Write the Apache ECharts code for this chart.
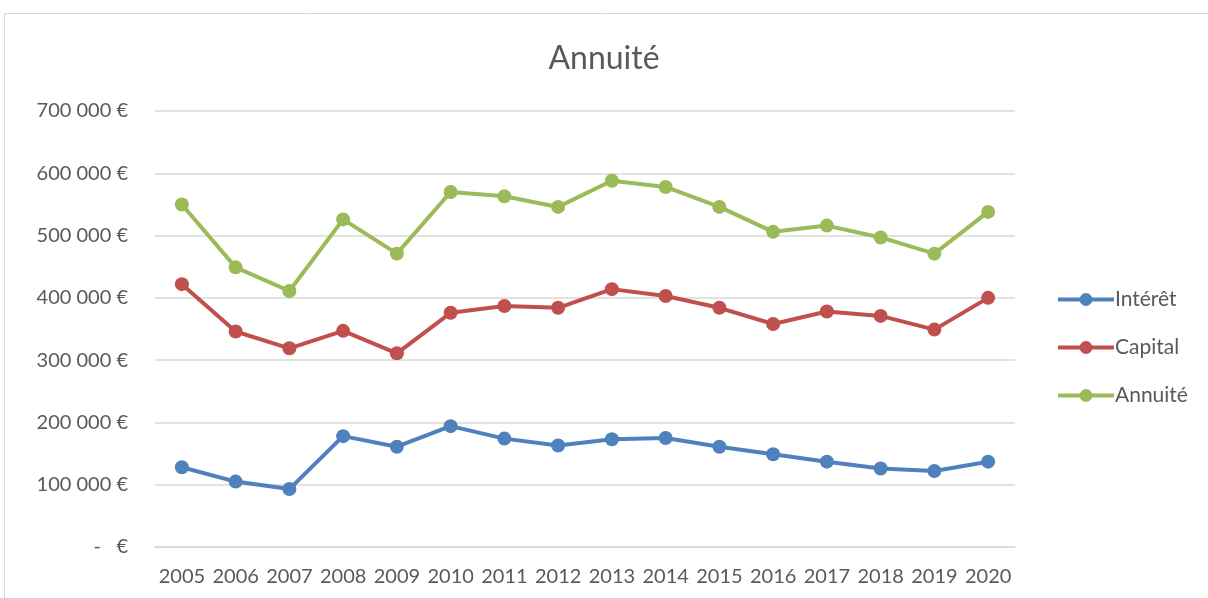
<!DOCTYPE html>
<html>
<head>
<meta charset="utf-8">
<script src="https://cdn.jsdelivr.net/npm/echarts@6/dist/echarts.min.js"></script>
<style>
  html, body { margin: 0; padding: 0; background: #fff; }
  #chart { width: 1208px; height: 598px; }
</style>
</head>
<body>
<div id="chart"></div>
<script>
var years = ['2005', '2006', '2007', '2008', '2009', '2010', '2011', '2012',
             '2013', '2014', '2015', '2016', '2017', '2018', '2019', '2020'];
var interet = [128000, 105000, 93000, 178000, 161000, 194000, 174000, 163000,
               173000, 175000, 161000, 149000, 137000, 126000, 122000, 137000];
var capital = [422000, 346000, 319000, 347000, 311000, 376000, 387000, 384000,
               414000, 403000, 384000, 358000, 378000, 371000, 349000, 400000];
var annuite = [550000, 449000, 411000, 526000, 471000, 570000, 563000, 546000,
               588000, 578000, 546000, 506000, 516000, 497000, 471000, 538000];

var font = 'Lato, "Open Sans", sans-serif';
var textColor = '#595959';

function euro(v) {
    if (v === 0) return '-   €';
    return String(v).replace(/\B(?=(\d{3})+(?!\d))/g, ' ') + ' €';
}

function lineSeries(name, data, color) {
    return {
        name: name,
        type: 'line',
        data: data,
        symbol: 'circle',
        symbolSize: 14,
        lineStyle: { width: 4, color: color },
        itemStyle: { color: color },
        animation: false
    };
}

var myChart = echarts.init(document.getElementById('chart'));
myChart.setOption({
    backgroundColor: '#fff',
    graphic: [{
        type: 'rect',
        shape: { x: 4.5, y: 13.5, width: 1300, height: 700 },
        style: { fill: 'none', stroke: '#D9D9D9', lineWidth: 1 },
        silent: true
    }],
    title: {
        text: 'Annuité',
        left: 'center',
        top: 38,
        textStyle: { fontFamily: font, fontSize: 32, fontWeight: 'normal', color: textColor }
    },
    legend: {
        orient: 'vertical',
        left: 1056,
        top: 289,
        padding: 0,
        itemWidth: 56,
        itemHeight: 16,
        itemGap: 27,
        lineStyle: { width: 4 },
        textStyle: { fontFamily: font, fontSize: 21, color: textColor, padding: [0, 0, 0, -4] },
        data: ['Intérêt', 'Capital', 'Annuité']
    },
    grid: { left: 155, right: 193, top: 111, bottom: 51, containLabel: false },
    xAxis: {
        type: 'category',
        data: years,
        boundaryGap: true,
        axisLine: { show: true, lineStyle: { color: '#D9D9D9', width: 1.5 } },
        axisTick: { show: false },
        axisLabel: { fontFamily: font, fontSize: 20, color: textColor, margin: 20, interval: 0 }
    },
    yAxis: {
        type: 'value',
        min: 0,
        max: 700000,
        interval: 100000,
        axisLine: { show: false },
        axisTick: { show: false },
        splitLine: { lineStyle: { color: '#D9D9D9', width: 1.5 } },
        axisLabel: { fontFamily: font, fontSize: 20, color: textColor, margin: 27, formatter: euro }
    },
    series: [
        lineSeries('Intérêt', interet, '#4F81BD'),
        lineSeries('Capital', capital, '#C0504D'),
        lineSeries('Annuité', annuite, '#9BBB59')
    ]
});
</script>
</body>
</html>
